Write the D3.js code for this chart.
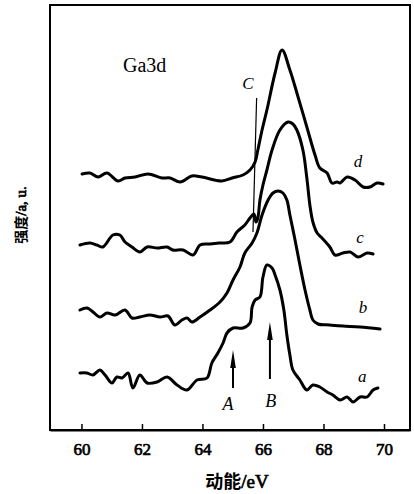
<!DOCTYPE html>
<html>
<head>
<meta charset="utf-8">
<script src="https://cdn.jsdelivr.net/npm/d3@7"></script>
<style>
  body { margin: 0; background: #fff; }
  svg { display: block; }
</style>
</head>
<body>
<div id="drawArea"></div>
<script>
// Ga3d spectra, kinetic energy (eV) vs intensity (a.u.), curves a-d stacked
var ticksEV = [60, 62, 64, 66, 68, 70];

var curveD = [
  [60.02,256],[60.28,257],[60.55,253],[60.84,257],[61.21,249],[61.44,252],[61.77,253],
  [62.20,256],[62.66,252],[62.93,252],[63.26,248],[63.65,254],[63.98,253],[64.64,249],
  [64.98,252],[65.34,255],[65.57,260],[65.74,268],[65.83,280],[65.97,300],[66.13,320],
  [66.40,357],[66.63,380],[66.89,360],[67.16,333],[67.45,303],[67.72,275],[67.88,262],
  [68.12,257],[68.28,247],[68.45,248],[68.55,247],[68.78,253],[69.04,250],[69.31,243],
  [69.54,243],[69.77,247],[69.97,246]
];

var curveC = [
  [59.95,185],[60.28,187],[60.51,185],[60.71,183],[61.04,195],[61.27,195],[61.44,188],
  [61.67,183],[61.93,178],[62.17,183],[62.50,182],[62.83,183],[63.02,180],[63.36,180],
  [63.69,175],[63.92,185],[64.25,186],[64.58,187],[64.91,188],[65.14,198],[65.40,205],
  [65.57,212],[65.70,216],[65.77,208],[65.83,212],[65.90,230],[66.00,245],[66.13,260],
  [66.30,280],[66.56,300],[66.83,308],[66.99,306],[67.12,300],[67.32,280],[67.45,252],
  [67.55,225],[67.65,208],[67.79,197],[67.95,192],[68.21,183],[68.38,175],[68.64,177],
  [68.88,178],[69.14,173],[69.44,177],[69.64,176]
];

var curveB = [
  [59.95,120],[60.18,122],[60.38,118],[60.61,113],[60.84,117],[61.11,115],[61.44,120],
  [61.67,112],[61.93,113],[62.26,115],[62.60,113],[62.86,114],[63.09,105],[63.32,110],
  [63.49,112],[63.65,108],[63.92,113],[64.25,120],[64.58,128],[64.81,137],[65.01,150],
  [65.24,163],[65.40,177],[65.64,187],[65.80,197],[65.97,215],[66.17,230],[66.33,237],
  [66.50,239],[66.66,237],[66.79,230],[66.89,215],[67.06,190],[67.22,165],[67.39,140],
  [67.55,120],[67.65,110],[67.82,106],[68.21,105],[68.64,104],[69.21,103],[69.87,101]
];

var curveA = [
  [59.95,57],[60.18,57],[60.38,55],[60.61,60],[60.78,55],[61.01,47],[61.17,53],
  [61.34,52],[61.54,57],[61.70,42],[61.93,55],[62.17,47],[62.50,48],[62.83,53],
  [63.16,45],[63.49,40],[63.82,50],[64.15,52],[64.31,67],[64.51,77],[64.68,87],
  [64.81,97],[65.01,102],[65.34,102],[65.57,107],[65.64,123],[65.74,130],[65.90,133],
  [66.00,153],[66.13,165],[66.30,162],[66.40,155],[66.56,140],[66.69,120],[66.79,95],
  [66.89,75],[66.99,60],[67.22,50],[67.45,40],[67.65,45],[67.88,43],[68.12,38],
  [68.31,35],[68.55,30],[68.78,33],[68.98,28],[69.21,33],[69.44,33],[69.64,40],[69.80,42]
];

var curveNames = ["a", "b", "c", "d"];
var curveLabelPos = [[69.28,53],[69.31,122],[69.21,192],[69.14,268]];

// arrows: [eV, tail, tip]
var arrows = [
  {name: "A", ev: 65.01, tail: 42, tip: 80, labelEV: 64.84, labelY: 20},
  {name: "B", ev: 66.23, tail: 51, tip: 108, labelEV: 66.26, labelY: 23}
];
// marker line C
var lineC = [[65.79,332],[65.67,198]];
var labelC = [65.50, 347];

var width = 414, height = 494;
var plotLeft = 50, plotRight = 410, plotTop = 5, plotBottom = 430;

var svg = d3.select("#drawArea").append("svg")
  .attr("width", width)
  .attr("height", height);

var x = d3.scaleLinear().domain([58.96, 70.86]).range([plotLeft, plotRight]);
var y = d3.scaleLinear().domain([0, 425]).range([plotBottom, plotTop]);

var serif = "'Liberation Serif', 'DejaVu Serif', serif";
var cjk = "'Noto Sans CJK SC', sans-serif";

// heavy serif look: regular serif face with a thin outline
function heavy(sel) {
  sel.style("font-family", serif)
    .style("font-weight", "normal")
    .attr("stroke", "#000")
    .attr("stroke-width", 0.7);
}

// frame
svg.append("rect")
  .attr("x", plotLeft).attr("y", plotTop)
  .attr("width", plotRight - plotLeft).attr("height", plotBottom - plotTop)
  .attr("fill", "none").attr("stroke", "#000").attr("stroke-width", 2);

var xAxis = d3.axisBottom(x)
  .tickValues(ticksEV)
  .tickSize(-6)
  .tickSizeOuter(0)
  .tickPadding(13)
  .tickFormat(d3.format("d"));

var gx = svg.append("g")
  .attr("transform", "translate(0," + plotBottom + ")")
  .call(xAxis);
gx.select(".domain").attr("stroke", "#000").attr("stroke-width", 2);
gx.selectAll(".tick line").attr("stroke", "#000").attr("stroke-width", 1.5);
gx.selectAll(".tick text")
  .attr("fill", "#000")
  .style("font-size", "17px")
  .call(heavy);

// axis titles
var xt = svg.append("text")
  .attr("x", 237).attr("y", 488)
  .attr("text-anchor", "middle")
  .style("font-size", "18px");
xt.append("tspan").style("font-family", cjk).style("font-weight", "bold").text("动能");
xt.append("tspan").call(heavy).style("font-size", "19px").text("/eV");

var yt = svg.append("text")
  .attr("transform", "translate(26,215) rotate(-90)")
  .attr("text-anchor", "middle")
  .style("font-size", "14px");
yt.append("tspan").style("font-family", cjk).style("font-weight", "bold").text("强度");
yt.append("tspan").call(heavy).style("font-size", "15px").text("/a, u.");

svg.append("text")
  .attr("x", 123).attr("y", 72)
  .style("font-family", serif)
  .style("font-size", "20px")
  .text("Ga3d");

var line = d3.line()
  .x(function(d) { return x(d[0]); })
  .y(function(d) { return y(d[1]); })
  .curve(d3.curveCatmullRom.alpha(0.5));

var curves = [curveA, curveB, curveC, curveD];
svg.selectAll("path.spec")
  .data(curves)
  .enter().append("path")
  .attr("class", "spec")
  .attr("d", line)
  .attr("fill", "none")
  .attr("stroke", "#000")
  .attr("stroke-width", 3)
  .attr("stroke-linejoin", "round")
  .attr("stroke-linecap", "round");

svg.selectAll("text.cname")
  .data(curveNames)
  .enter().append("text")
  .attr("class", "cname")
  .attr("x", function(d, i) { return x(curveLabelPos[i][0]); })
  .attr("y", function(d, i) { return y(curveLabelPos[i][1]); })
  .attr("dy", "0.32em")
  .attr("text-anchor", "middle")
  .style("font-family", serif)
  .style("font-style", "italic")
  .style("font-size", "17px")
  .text(function(d) { return d; });

// line C
svg.append("line")
  .attr("x1", x(lineC[0][0])).attr("y1", y(lineC[0][1]))
  .attr("x2", x(lineC[1][0])).attr("y2", y(lineC[1][1]))
  .attr("stroke", "#000").attr("stroke-width", 1.2);

svg.append("text")
  .attr("x", x(labelC[0])).attr("y", y(labelC[1]))
  .attr("dy", "0.35em")
  .attr("text-anchor", "middle")
  .style("font-family", serif)
  .style("font-style", "italic")
  .style("font-size", "17px")
  .text("C");

// arrows A and B
arrows.forEach(function(a) {
  var ax = x(a.ev), y0 = y(a.tail), y1 = y(a.tip);
  svg.append("line")
    .attr("x1", ax).attr("y1", y0)
    .attr("x2", ax).attr("y2", y1 + 8)
    .attr("stroke", "#000").attr("stroke-width", 2);
  svg.append("path")
    .attr("d", "M" + ax + "," + y1 + " L" + (ax + 2.8) + "," + (y1 + 18) +
      " L" + (ax - 2.8) + "," + (y1 + 18) + "Z")
    .attr("fill", "#000");
  svg.append("text")
    .attr("x", x(a.labelEV)).attr("y", y(a.labelY))
    .attr("text-anchor", "middle")
    .style("font-family", serif)
    .style("font-style", "italic")
    .style("font-size", "18px")
    .text(a.name);
});
</script>
</body>
</html>
